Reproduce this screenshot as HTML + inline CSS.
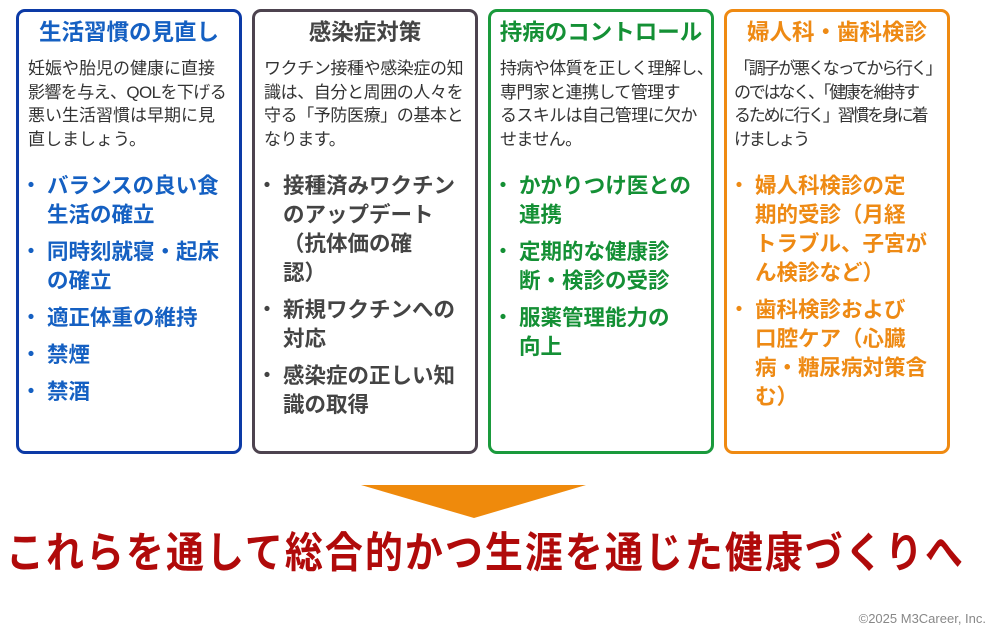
<!DOCTYPE html>
<html><head><meta charset="utf-8"><style>
*{margin:0;padding:0;box-sizing:border-box}
body{width:992px;height:634px;background:#fff;position:relative;overflow:hidden;font-family:"Liberation Sans","Noto Sans CJK JP",sans-serif}
.box{position:absolute;top:9px;width:226px;height:445px;border:3px solid;border-radius:9px;background:#fff}
.t{position:absolute;top:5px;left:0;right:0;text-align:center;font-weight:bold;font-size:22.5px;line-height:32px;white-space:nowrap}
.d{position:absolute;top:45px;left:9px;font-size:17px;line-height:23.7px;color:#333;white-space:nowrap;letter-spacing:0}
.ul{position:absolute;top:160px;left:8px;font-weight:bold;font-size:21.5px;line-height:29px;white-space:nowrap}
.li{position:relative;padding-left:20px;margin-bottom:8px}
.li:before{content:"・";position:absolute;left:-6px;top:0;font-size:20px}
</style></head><body>

<div class="box" style="left:16px;border-color:#0c3aa6">
<div class="t" style="color:#1560c2">生活習慣の見直し</div>
<div class="d">妊娠や胎児の健康に直接<br><span style="letter-spacing:-0.6px">影響を与え、QOLを下げる</span><br>悪い生活習慣は早期に見<br>直しましょう。</div>
<div class="ul" style="color:#1560c2">
<div class="li">バランスの良い食<br>生活の確立</div>
<div class="li">同時刻就寝・起床<br>の確立</div>
<div class="li">適正体重の維持</div>
<div class="li">禁煙</div>
<div class="li">禁酒</div>
</div></div>

<div class="box" style="left:252px;border-color:#4d434f">
<div class="t" style="color:#444">感染症対策</div>
<div class="d" style="letter-spacing:-0.4px">ワクチン接種や感染症の知<br>識は、自分と周囲の人々を<br>守る「予防医療」の基本と<br>なります。</div>
<div class="ul" style="color:#444">
<div class="li">接種済みワクチン<br>のアップデート<br>（抗体価の確<br>認）</div>
<div class="li">新規ワクチンへの<br>対応</div>
<div class="li">感染症の正しい知<br>識の取得</div>
</div></div>

<div class="box" style="left:488px;border-color:#1a9a3c">
<div class="t" style="color:#149035">持病のコントロール</div>
<div class="d" style="letter-spacing:-0.6px">持病や体質を正しく理解し、<br>専門家と連携して管理す<br>るスキルは自己管理に欠か<br>せません。</div>
<div class="ul" style="color:#149035">
<div class="li">かかりつけ医との<br>連携</div>
<div class="li">定期的な健康診<br>断・検診の受診</div>
<div class="li">服薬管理能力の<br>向上</div>
</div></div>

<div class="box" style="left:724px;border-color:#ef8a12">
<div class="t" style="color:#ee8a14">婦人科・歯科検診</div>
<div class="d" style="left:7px;letter-spacing:-2.2px">「調子が悪くなってから行く」<br>のではなく、「健康を維持す<br>るために行く」習慣を身に着<br>けましょう</div>
<div class="ul" style="color:#ee8a14">
<div class="li">婦人科検診の定<br>期的受診（月経<br>トラブル、子宮が<br>ん検診など）</div>
<div class="li">歯科検診および<br>口腔ケア（心臓<br>病・糖尿病対策含<br>む）</div>
</div></div>

<svg style="position:absolute;left:0;top:0" width="992" height="634"><polygon points="361,485 586,485 474,518" fill="#ef8a0c"/></svg>

<div style="position:absolute;left:6px;top:532px;font-weight:bold;font-size:38px;line-height:44px;color:#b00a0a;letter-spacing:2px;white-space:nowrap;transform:scaleY(1.12);transform-origin:0 50%">これらを通して総合的かつ生涯を通じた健康づくりへ</div>

<div style="position:absolute;right:6px;top:611px;font-size:13px;color:#888">©2025 M3Career, Inc.</div>
</body></html>
